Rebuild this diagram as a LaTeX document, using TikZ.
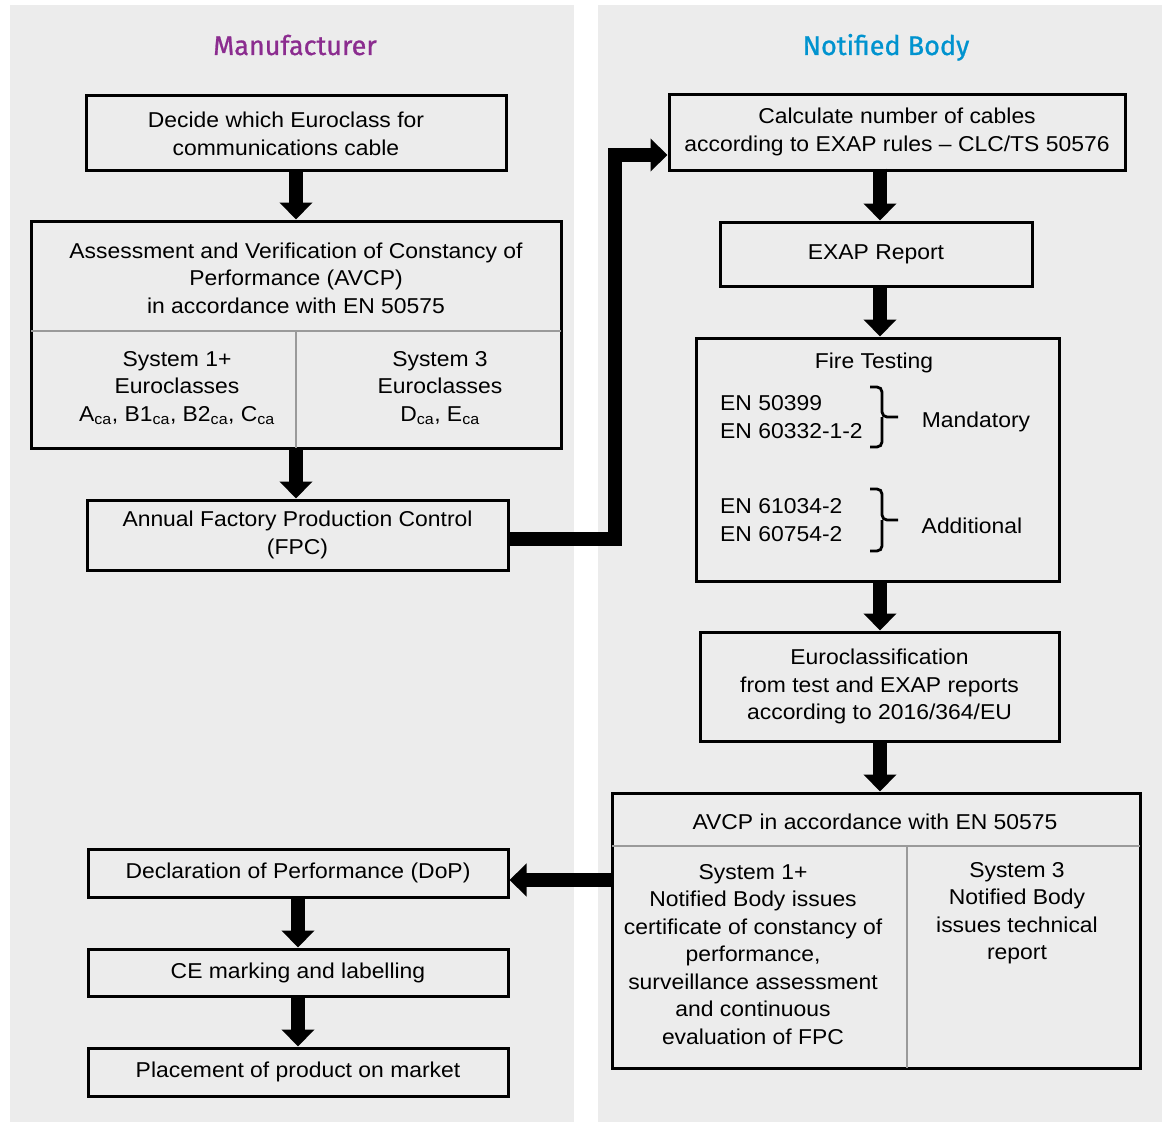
\documentclass[tikz,border=0pt]{standalone}
\usepackage{fontspec}
\setmainfont{Liberation Sans}[FakeStretch=1.065]
\newfontfamily\dghead{Fira Sans}[FakeBold=0.9]
\usetikzlibrary{arrows.meta,calc}
\definecolor{panel}{HTML}{ECECEC}
\definecolor{mpurple}{HTML}{8B2C8F}
\definecolor{nblue}{HTML}{0093CF}
\definecolor{divgray}{HTML}{9A9A9A}
\newcommand\dgbody{\fontsize{21.5}{27.5}\selectfont}
\begin{document}
\begin{tikzpicture}[x=1pt,y=-1pt,
  box/.style={draw=black, line width=3pt, align=center, inner sep=0pt, font=\dgbody},
  txt/.style={align=center, inner sep=0pt, font=\dgbody},
  divider/.style={draw=divgray, line width=1.8pt},
  bigarrow/.style={line width=14pt, -{Triangle[width=32pt,length=17pt]}},
  bracebar/.style={line width=2.8pt, rounded corners=5pt},
  header/.style={font=\dghead\fontsize{27}{32}\selectfont, inner sep=0pt, anchor=base}]
\useasboundingbox (0,0) rectangle (1166,1124);
\fill[white] (0,0) rectangle (1166,1124);
\fill[panel] (10,5) rectangle (574,1122);
\fill[panel] (598,5) rectangle (1162,1122);

% headers
\node[header, text=mpurple] (hman) at (295,55) {Manufacturer};
\node[header, text=nblue] (hnb) at (886,55) {Notified Body};

% left column boxes
\node[box, minimum width=420pt, minimum height=75pt] (decide) at (296,132.5) {};
\node[txt] (decidetxt) at (286,134) {Decide which Euroclass for\\communications cable};

\node[box, minimum width=530pt, minimum height=227pt] (avcpa) at (296,334.5) {};
\draw[divider] (31,331) -- (561,331);
\draw[divider] (296,331) -- (296,448);
\node[txt] (avcpatop) at (296,278) {Assessment and Verification of Constancy of\\Performance (AVCP)\\in accordance with EN 50575};
\node[txt] (avcpaleft) at (177,388) {System 1+\\Euroclasses\\A\textsubscript{ca}, B1\textsubscript{ca}, B2\textsubscript{ca}, C\textsubscript{ca}};
\node[txt] (avcparight) at (440,388) {System 3\\Euroclasses\\D\textsubscript{ca}, E\textsubscript{ca}};

\node[box, minimum width=421pt, minimum height=70pt] (fpc) at (297.5,535) {Annual Factory Production Control\\(FPC)};

\node[box, minimum width=420pt, minimum height=48pt] (dop) at (298,873) {Declaration of Performance (DoP)};
\node[box, minimum width=420pt, minimum height=47pt] (ce) at (298,972.5) {CE marking and labelling};
\node[box, minimum width=420pt, minimum height=48pt] (place) at (298,1072) {Placement of product on market};

% right column boxes
\node[box, minimum width=456pt, minimum height=76pt] (calc) at (897,132) {Calculate number of cables\\according to EXAP rules -- CLC/TS 50576};
\node[box, minimum width=312pt, minimum height=64pt] (exap) at (876,254) {EXAP Report};

\node[box, minimum width=363pt, minimum height=243pt] (fire) at (877.5,459.5) {};
\node[txt] (firetitle) at (874,363) {Fire Testing};
\node[txt, align=left, anchor=west] (mandstd) at (720,417) {EN 50399\\EN 60332-1-2};
\node[txt, align=left, anchor=west] (addstd) at (720,520) {EN 61034-2\\EN 60754-2};
\draw[bracebar] (870,387) -- (882,387) -- (882,417) -- (898,417);
\draw[bracebar] (870,447) -- (882,447) -- (882,417);
\draw[bracebar] (870,489) -- (882,489) -- (882,520) -- (898,520);
\draw[bracebar] (870,551) -- (882,551) -- (882,520);
\node[txt] (mandlbl) at (976,422) {Mandatory};
\node[txt] (addlbl) at (972,526) {Additional};

\node[box, minimum width=359pt, minimum height=109pt] (euro) at (879.5,686.5) {Euroclassification\\from test and EXAP reports\\according to 2016/364/EU};

\node[box, minimum width=528pt, minimum height=275pt] (avcpb) at (876,930.5) {};
\draw[divider] (612,846) -- (1140,846);
\draw[divider] (907,846) -- (907,1068);
\node[txt] (avcpbtop) at (875,822) {AVCP in accordance with EN 50575};
\node[txt] (avcpbleft) at (753,954.5) {System 1+\\Notified Body issues\\certificate of constancy of\\performance,\\surveillance assessment\\and continuous\\evaluation of FPC};
\node[txt] (avcpbright) at (1017,913) {System 3\\Notified Body\\issues technical\\report};

% connectors
\coordinate (elbow) at (615,155);
\coordinate (dopin) at (612,880);
\draw[bigarrow] (decide.south) -- (decide.south |- avcpa.north);
\draw[bigarrow] (avcpa.south) -- (avcpa.south |- fpc.north);
\draw[bigarrow, -] (fpc.east |- 0,539) -| (elbow);
\draw[bigarrow] ([xshift=-7pt]elbow) -- (calc.west |- elbow);
\draw[bigarrow] (exap.north -| 880,0) ++(0,-52) -- (exap.north -| 880,0);
\draw[bigarrow] (exap.south -| 880,0) -- (fire.north -| 880,0);
\draw[bigarrow] (fire.south -| 880,0) -- (euro.north -| 880,0);
\draw[bigarrow] (euro.south -| 880,0) -- (avcpb.north -| 880,0);
\draw[bigarrow] (dopin) -- (dop.east |- dopin);
\draw[bigarrow] (dop.south) -- (ce.north);
\draw[bigarrow] (ce.south) -- (place.north);
\end{tikzpicture}
\end{document}
